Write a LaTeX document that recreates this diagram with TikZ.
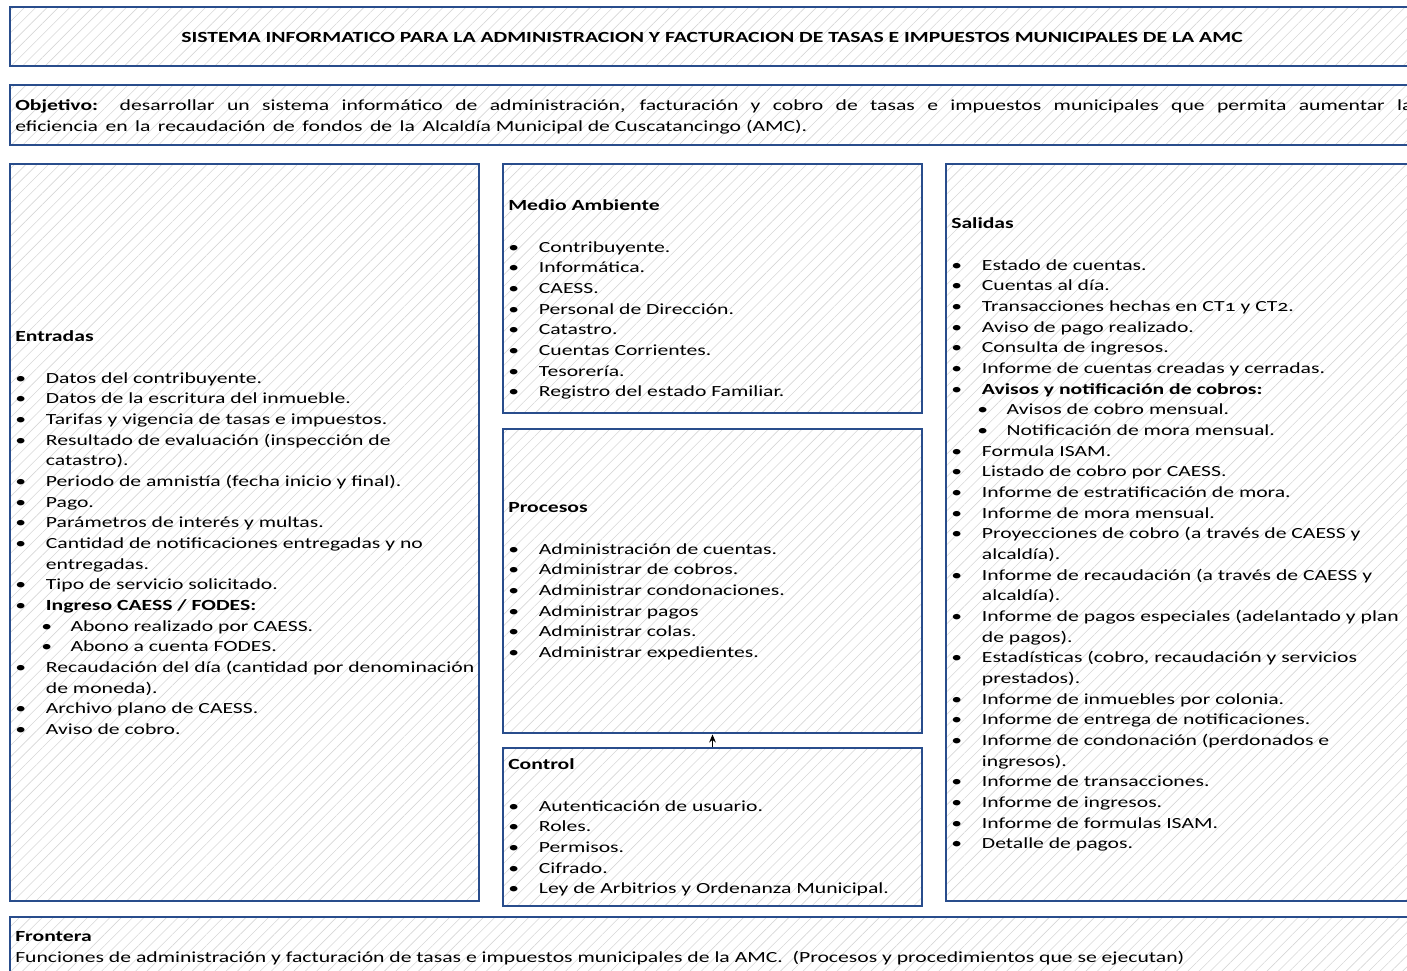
\documentclass[tikz,border=0pt]{standalone}
\usepackage{fontspec}
\setmainfont{Carlito}[Numbers=OldStyle, FakeStretch=1.4]
\usetikzlibrary{patterns.meta,arrows.meta,fit}
\definecolor{frameblue}{RGB}{41,77,140}
\definecolor{hatchgray}{RGB}{214,214,214}
% list helpers: bullet, hanging indent, second-level bullet
\newcommand{\bul}{\makebox[23pt][l]{•}}
\newcommand{\hang}{\hspace*{23pt}}
\newcommand{\subbul}{\hspace*{19.5pt}\makebox[22pt][l]{•}}
\tikzset{
  panel/.style={draw=frameblue, line width=2.2pt, inner sep=0pt,
    pattern={Lines[angle=45,distance=6pt,line width=0.45pt]}, pattern color=hatchgray},
  body/.style={anchor=north west, inner sep=0pt, align=left,
    font=\fontsize{11.6pt}{15.5pt}\selectfont},
}
\begin{document}
\begin{tikzpicture}[x=0.75pt,y=-0.75pt]
\useasboundingbox (0,0) rectangle (1407,971);

% frames
\node[panel, fit={(10,7) (1425,66)}] (title) {};
\node[panel, fit={(10,85) (1425,145)}] (obj) {};
\node[panel, fit={(10,164) (479,901)}] (entradas) {};
\node[panel, fit={(503,164) (922,413)}] (medio) {};
\node[panel, fit={(503,429) (922,733)}] (procesos) {};
\node[panel, fit={(503,748) (922,906)}] (control) {};
\node[panel, fit={(946,164) (1425,901)}] (salidas) {};
\node[panel, fit={(10,917) (1425,990)}] (frontera) {};

\draw[-{Stealth[length=6pt,width=5pt]}, line width=0.7pt] (control.north) -- (procesos.south);

% texts
\node[font=\fontsize{11.6pt}{15.5pt}\selectfont\bfseries, inner sep=0pt] (titletxt) at (712,37)
  {SISTEMA INFORMATICO PARA LA ADMINISTRACION Y FACTURACION DE TASAS E IMPUESTOS MUNICIPALES DE LA AMC};

\node[body, text width=1048pt, align=justify] (objtxt) at (15,96)
  {\strut\textbf{Objetivo:} desarrollar un sistema informático de administración, facturación y cobro de tasas e impuestos municipales que permita aumentar la\linebreak
   eficiencia\ \,en\ \,la\ \,recaudación\ \,de\ \,fondos\ \,de\ \,la\ \,Alcaldía Municipal de Cuscatancingo (AMC).};

\node[body] (entradastxt) at (15,327) {\strut\textbf{Entradas}\\[15.5pt]
\bul Datos del contribuyente.\\
\bul Datos de la escritura del inmueble.\\
\bul Tarifas y vigencia de tasas e impuestos.\\
\bul Resultado de evaluación (inspección de\\
\hang catastro).\\
\bul Periodo de amnistía (fecha inicio y final).\\
\bul Pago.\\
\bul Parámetros de interés y multas.\\
\bul Cantidad de notificaciones entregadas y no\\
\hang entregadas.\\
\bul Tipo de servicio solicitado.\\
\bul \textbf{Ingreso CAESS / FODES:}\\
\subbul Abono realizado por CAESS.\\
\subbul Abono a cuenta FODES.\\
\bul Recaudación del día (cantidad por denominación\\
\hang de moneda).\\
\bul Archivo plano de CAESS.\\
\bul Aviso de cobro.};

\node[body] (mediotxt) at (508,196) {\strut\textbf{Medio Ambiente}\\[15.5pt]
\bul Contribuyente.\\
\bul Informática.\\
\bul CAESS.\\
\bul Personal de Dirección.\\
\bul Catastro.\\
\bul Cuentas Corrientes.\\
\bul Tesorería.\\
\bul Registro del estado Familiar.};

\node[body] (procesostxt) at (508,498) {\strut\textbf{Procesos}\\[15.5pt]
\bul Administración de cuentas.\\
\bul Administrar de cobros.\\
\bul Administrar condonaciones.\\
\bul Administrar pagos\\
\bul Administrar colas.\\
\bul Administrar expedientes.};

\node[body] (controltxt) at (508,755) {\strut\textbf{Control}\\[15.5pt]
\bul Autenticación de usuario.\\
\bul Roles.\\
\bul Permisos.\\
\bul Cifrado.\\
\bul Ley de Arbitrios y Ordenanza Municipal.};

\node[body] (salidastxt) at (951,214) {\strut\textbf{Salidas}\\[15.5pt]
\bul Estado de cuentas.\\
\bul Cuentas al día.\\
\bul Transacciones hechas en CT1 y CT2.\\
\bul Aviso de pago realizado.\\
\bul Consulta de ingresos.\\
\bul Informe de cuentas creadas y cerradas.\\
\bul \textbf{Avisos y notificación de cobros:}\\
\subbul Avisos de cobro mensual.\\
\subbul Notificación de mora mensual.\\
\bul Formula ISAM.\\
\bul Listado de cobro por CAESS.\\
\bul Informe de estratificación de mora.\\
\bul Informe de mora mensual.\\
\bul Proyecciones de cobro (a través de CAESS y\\
\hang alcaldía).\\
\bul Informe de recaudación (a través de CAESS y\\
\hang alcaldía).\\
\bul Informe de pagos especiales (adelantado y plan\\
\hang de pagos).\\
\bul Estadísticas (cobro, recaudación y servicios\\
\hang prestados).\\
\bul Informe de inmuebles por colonia.\\
\bul Informe de entrega de notificaciones.\\
\bul Informe de condonación (perdonados e\\
\hang ingresos).\\
\bul Informe de transacciones.\\
\bul Informe de ingresos.\\
\bul Informe de formulas ISAM.\\
\bul Detalle de pagos.};

\node[body] (fronteratxt) at (15,927) {\strut\textbf{Frontera}\\
Funciones de administración y facturación de tasas e impuestos municipales de la AMC.~~(Procesos y procedimientos que se ejecutan)};
\end{tikzpicture}
\end{document}
